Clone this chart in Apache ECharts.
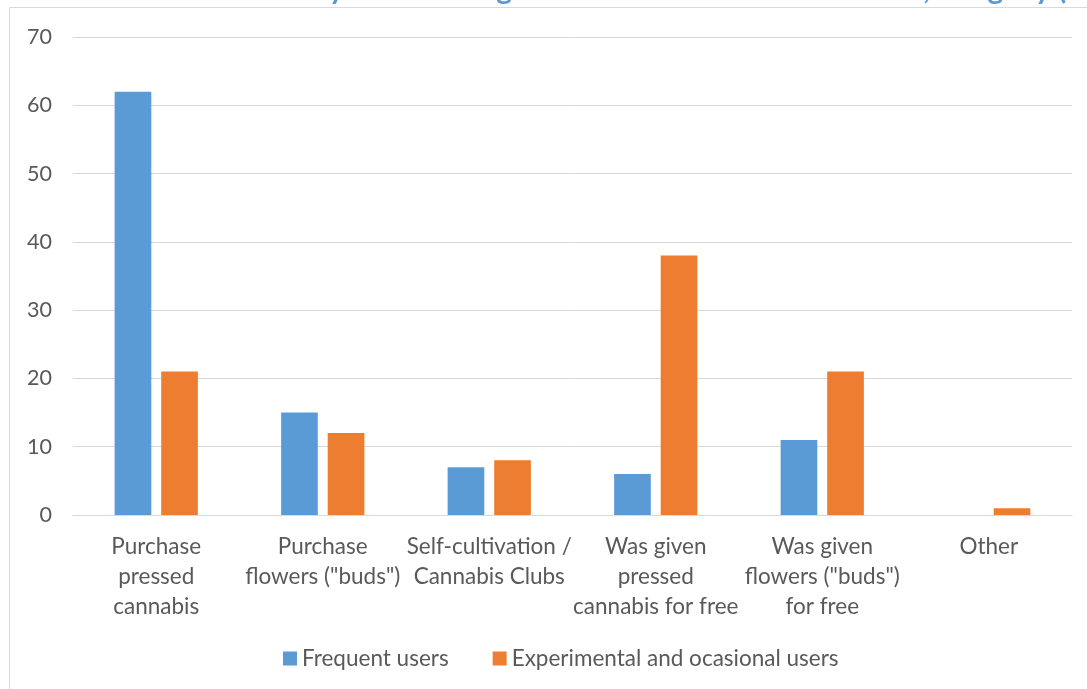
<!DOCTYPE html>
<html>
<head>
<meta charset="utf-8">
<script src="https://cdn.jsdelivr.net/npm/echarts@6/dist/echarts.min.js"></script>
<style>
  html, body { margin: 0; padding: 0; background: #fff; }
  #chart { width: 1087px; height: 689px; }
</style>
</head>
<body>
<div id="chart"></div>
<script>
const categories = [
  "Purchase\npressed\ncannabis",
  "Purchase\nflowers (\"buds\")",
  "Self-cultivation /\nCannabis Clubs",
  "Was given\npressed\ncannabis for free",
  "Was given\nflowers (\"buds\")\nfor free",
  "Other",
];
const frequentUsers = [62, 15, 7, 6, 11, 0];
const occasionalUsers = [21, 12, 8, 38, 21, 1];
const seriesNames = ["Frequent users", "Experimental and ocasional users"];
// title is cut off at the top of the picture, only descenders show
const titleText = "Main way of obtaining cannabis in the last 12 months, Uruguay (%)";

const colors = ["#5B9BD5", "#ED7D31"];
const textColor = "#595959";
const font = "Lato, 'Open Sans', sans-serif";

const chart = echarts.init(document.getElementById("chart"));

chart.setOption({
  color: colors,
  animation: false,
  title: {
    text: titleText,
    left: 215,
    top: -26,
    padding: 0,
    textStyle: { color: "#5B9BD5", fontSize: 30, fontWeight: "bold", fontFamily: font },
  },
  graphic: [
    {
      type: "rect",
      shape: { x: 9.5, y: 7.5, width: 1200, height: 800 },
      style: { fill: null, stroke: "#d9d9d9", lineWidth: 1 },
      silent: true,
    },
  ],
  grid: { left: 73, right: 15, top: 37, bottom: 174, containLabel: false },
  legend: {
    top: 642,
    left: 278,
    itemWidth: 14,
    itemHeight: 14,
    itemGap: 44,
    icon: "rect",
    textStyle: { color: textColor, fontSize: 22.5, fontFamily: font },
  },
  xAxis: {
    type: "category",
    data: categories,
    axisLine: { lineStyle: { color: "#d9d9d9" } },
    axisTick: { show: false },
    axisLabel: {
      color: textColor,
      fontSize: 22.5,
      fontFamily: font,
      lineHeight: 30,
      margin: 17,
      interval: 0,
    },
  },
  yAxis: {
    type: "value",
    min: 0,
    max: 70,
    interval: 10,
    axisLine: { show: false },
    axisTick: { show: false },
    splitLine: { lineStyle: { color: "#d9d9d9" } },
    axisLabel: { color: textColor, fontSize: 21.5, fontFamily: font, margin: 21 },
  },
  series: [
    {
      name: seriesNames[0],
      type: "bar",
      data: frequentUsers,
      barGap: "27%",
      barCategoryGap: "50%",
    },
    {
      name: seriesNames[1],
      type: "bar",
      data: occasionalUsers,
    },
  ],
});
</script>
</body>
</html>
